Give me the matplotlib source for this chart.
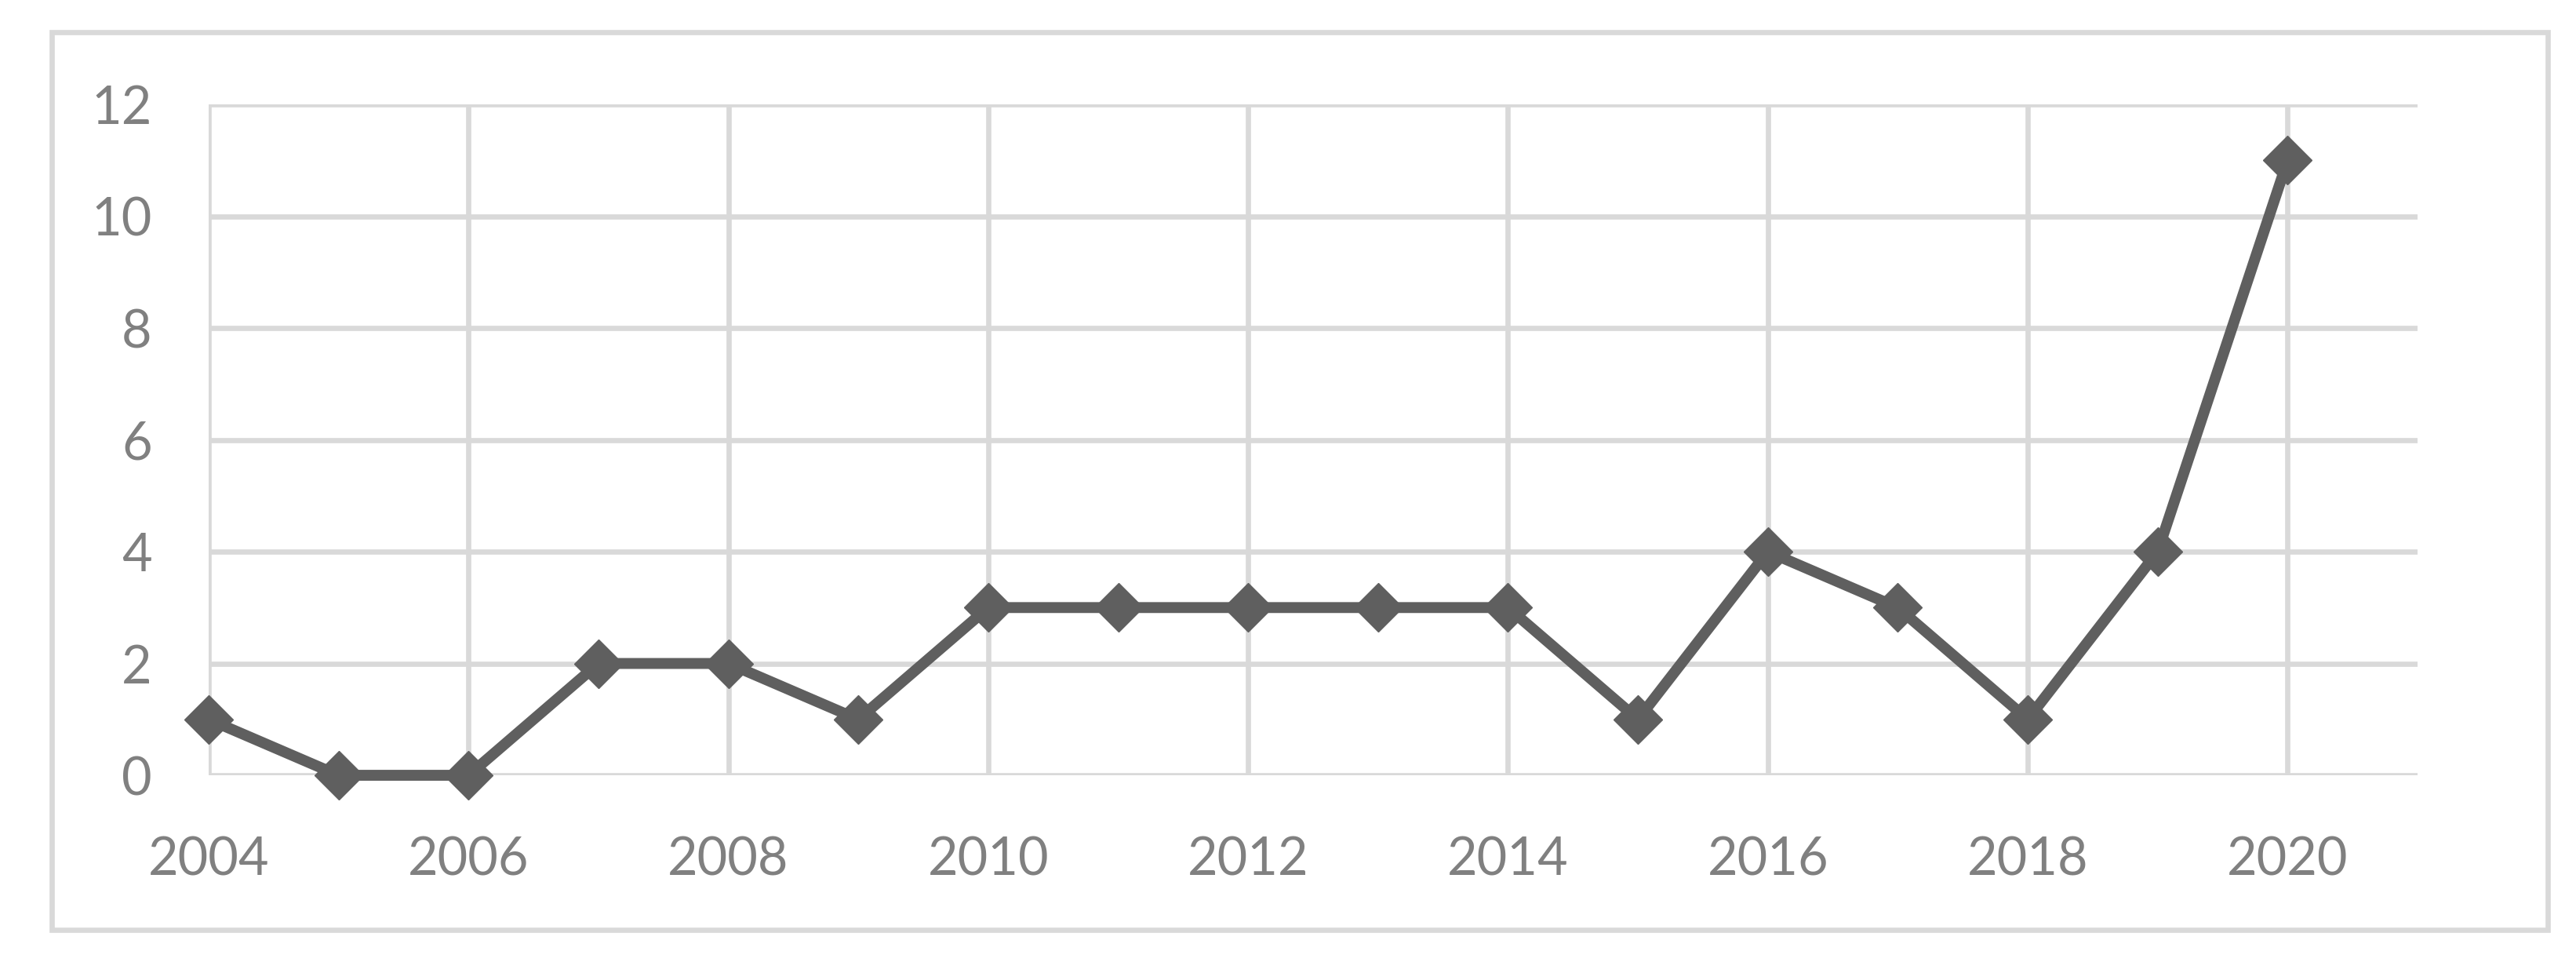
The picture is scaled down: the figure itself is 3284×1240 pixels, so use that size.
import matplotlib.pyplot as plt
from matplotlib.patches import Rectangle

# data
years = [2004, 2005, 2006, 2007, 2008, 2009, 2010, 2011, 2012,
         2013, 2014, 2015, 2016, 2017, 2018, 2019, 2020]
counts = [1, 0, 0, 2, 2, 1, 3, 3, 3, 3, 3, 1, 4, 3, 1, 4, 11]
x_ticks = list(range(2004, 2021, 2))
y_ticks = list(range(0, 13, 2))

grid_col = '#D9D9D9'
text_col = '#808080'
line_col = '#5F5F5F'

fig = plt.figure(figsize=(32.84, 12.40), dpi=100)
ax = fig.add_axes([0.0810, 0.2032, 0.8575, 0.6895])

# outer chart border
fig.patches.append(Rectangle((0.0201, 0.0444), 0.9689, 0.9226,
                             transform=fig.transFigure, fill=False,
                             edgecolor=grid_col, linewidth=4.8))

ax.plot(years, counts, color=line_col, linewidth=10, marker='D',
        markersize=32, markeredgewidth=1, markeredgecolor=line_col,
        clip_on=False, zorder=3)

ax.set_xlim(2004, 2021)
ax.set_ylim(0, 12)
ax.set_xticks(x_ticks)
ax.set_yticks(y_ticks)
ax.grid(True, color=grid_col, linewidth=4.8, zorder=0)
ax.set_axisbelow(True)
for s in ax.spines.values():
    s.set_visible(False)

ax.tick_params(length=0, labelsize=48, labelcolor=text_col)
ax.tick_params(axis='y', pad=52)
ax.tick_params(axis='x', pad=56)
for lab in ax.get_xticklabels() + ax.get_yticklabels():
    lab.set_fontfamily('Lato')

fig.savefig('out.png', dpi=100)
